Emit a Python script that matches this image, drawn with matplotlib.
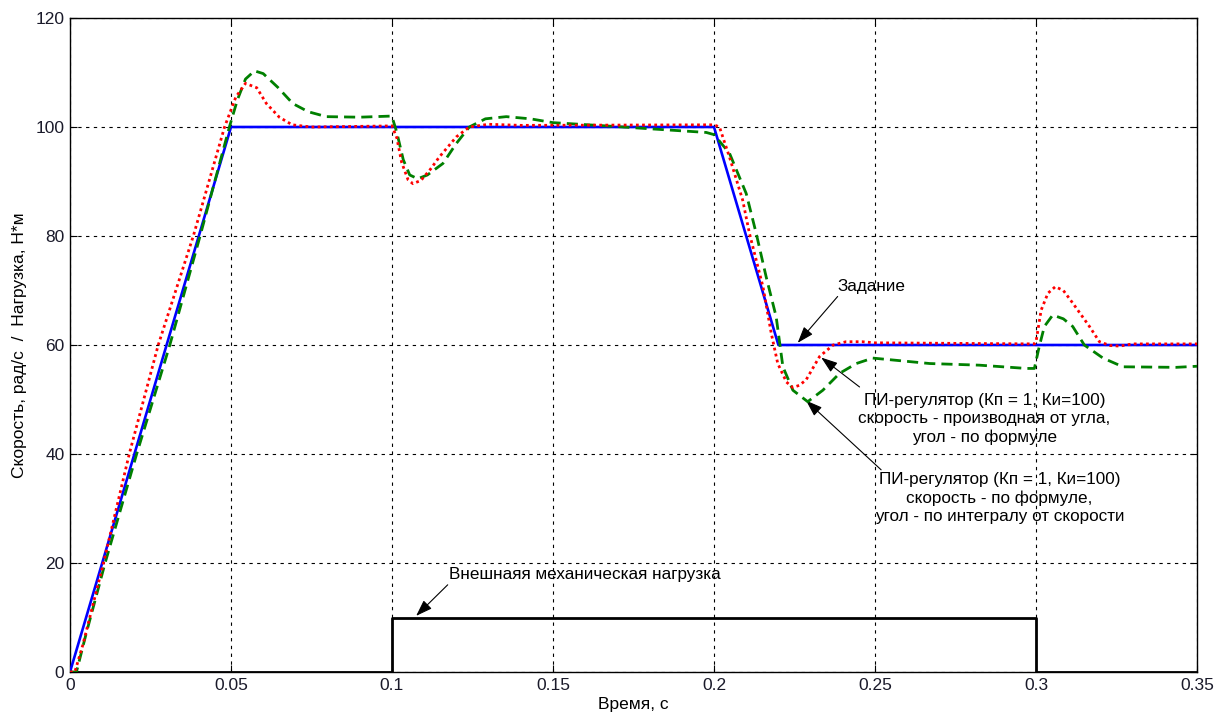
import matplotlib
matplotlib.use("Agg")
import matplotlib.pyplot as plt

plt.rcParams['font.family'] = ['Liberation Sans', 'DejaVu Sans']

# Reference (задание)
t_ref = [0, 0.05, 0.2, 0.22, 0.35]
v_ref = [0, 100, 100, 60, 60]

# PI, speed = derivative of angle (red dotted)
t_red = [0, 0.0015, 0.004, 0.0104, 0.0184, 0.0274, 0.0383, 0.048, 0.0515, 0.0545, 0.058,
         0.061, 0.065, 0.069, 0.075, 0.1, 0.1015, 0.103, 0.105, 0.1065, 0.109, 0.112,
         0.1147, 0.12, 0.124, 0.13, 0.14, 0.2, 0.2017, 0.2048, 0.2089, 0.211, 0.2152,
         0.2178, 0.2198, 0.2225, 0.2245, 0.2265, 0.2286, 0.2328, 0.237, 0.241, 0.246,
         0.25, 0.2995, 0.3, 0.3016, 0.3037, 0.306, 0.3085, 0.3114, 0.3166, 0.3197,
         0.323, 0.326, 0.33, 0.35]
v_red = [0, 0, 5, 20, 40, 60, 80, 100, 105.5, 108.0, 107.2,
         104.3, 101.8, 100.4, 100.0, 100.2, 98.0, 93.5, 90.3, 89.6, 90.2, 92.3,
         94.5, 98.2, 100.0, 100.5, 100.3, 100.4, 100.0, 94.5, 86.6, 80.5, 70.7,
         62.1, 56.6, 53.2, 52.2, 52.6, 53.6, 57.9, 60.0, 60.6, 60.6,
         60.4, 60.2, 60.6, 66.4, 69.5, 70.7, 70.0, 67.7, 63.4, 60.6,
         59.9, 59.8, 60.2, 60.2]

# PI, speed by formula (green dashed)
t_grn = [0, 0.002, 0.005, 0.0109, 0.0207, 0.031, 0.0404, 0.0495, 0.052, 0.0545, 0.0573,
         0.06, 0.0645, 0.0692, 0.074, 0.0796, 0.09, 0.0995, 0.1, 0.1015, 0.1035, 0.1055,
         0.108, 0.111, 0.1158, 0.12, 0.124, 0.129, 0.1355, 0.143, 0.15, 0.1665, 0.182,
         0.1976, 0.2, 0.2048, 0.21, 0.2131, 0.2162, 0.2193, 0.2214, 0.2245, 0.2291,
         0.2338, 0.239, 0.2442, 0.2493, 0.267, 0.2824, 0.297, 0.2995, 0.301, 0.3026,
         0.3052, 0.3085, 0.3114, 0.315, 0.3208, 0.327, 0.3435, 0.35]
v_grn = [0, 0, 7, 20, 40, 60, 80, 100, 105, 108.8, 110.3,
         109.8, 107.3, 104.3, 102.8, 101.9, 101.8, 102.0, 101.9, 99.0, 94.0, 91.2,
         90.5, 91.2, 93.3, 97.0, 100.0, 101.5, 101.9, 101.5, 100.8, 100.2, 99.6,
         99.0, 98.6, 95.2, 87.8, 80.5, 72.5, 65.2, 56.0, 51.7, 49.6,
         51.7, 54.8, 56.6, 57.6, 56.6, 56.3, 55.7, 55.7, 59.7, 63.4,
         65.5, 64.8, 63.4, 60.0, 57.6, 56.0, 55.9, 56.1]

# External mechanical load
t_load = [0, 0.1, 0.1, 0.3, 0.3, 0.35]
v_load = [0, 0, 10, 10, 0, 0]

xticks = [0, 0.05, 0.1, 0.15, 0.2, 0.25, 0.3, 0.35]
xticklabels = ['0', '0.05', '0.1', '0.15', '0.2', '0.25', '0.3', '0.35']
yticks = [0, 20, 40, 60, 80, 100, 120]

fig = plt.figure(figsize=(12.23, 7.18), dpi=100)
ax = fig.add_axes([70 / 1223, 46 / 718, 1127 / 1223, 654 / 718])

ax.plot(t_load, v_load, color='black', lw=2.0, zorder=3)
ax.plot(t_ref, v_ref, color='#0000ff', lw=1.9, zorder=4)
ax.plot(t_grn, v_grn, color='#008000', lw=2.0, ls=(0, (4, 2.2)), zorder=5)
ax.plot(t_red, v_red, color='#ff0000', lw=2.0, ls=(0, (1, 1.2)), zorder=6)

ax.set_xlim(0, 0.35)
ax.set_ylim(0, 120)
ax.set_xticks(xticks)
ax.set_xticklabels(xticklabels)
ax.set_yticks(yticks)
ax.grid(True, color='black', ls=(0, (3, 4)), lw=0.8)
ax.tick_params(direction='in', length=5, top=True, right=True, labelsize=12.5,
               labelcolor='#1a1a2a', pad=4)
for s in ax.spines.values():
    s.set_linewidth(1.0)

ax.set_xlabel('Время, с', fontsize=12.5, labelpad=3)
ax.set_ylabel('Скорость, рад/с  /  Нагрузка, Н*м', fontsize=12.5, labelpad=6)

arrow = dict(arrowstyle='-|>,head_length=1.0,head_width=0.35', color='black',
             lw=0.8, shrinkA=0, shrinkB=0)
fs = 12.3

ax.text(0.2488, 70.7, 'Задание', fontsize=fs, ha='center', va='center')
ax.annotate('', xy=(0.226, 60.4), xytext=(0.2384, 68.9), arrowprops=arrow)

ax.text(0.284, 46.4, 'ПИ-регулятор (Кп = 1, Ки=100)\nскорость - производная от угла,\nугол - по формуле',
        fontsize=fs, ha='center', va='center', linespacing=1.25)
ax.annotate('', xy=(0.2333, 57.7), xytext=(0.2452, 52.3), arrowprops=arrow)

ax.text(0.2886, 31.9, 'ПИ-регулятор (Кп = 1, Ки=100)\nскорость - по формуле,\nугол - по интегралу от скорости',
        fontsize=fs, ha='center', va='center', linespacing=1.25)
ax.annotate('', xy=(0.2286, 49.8), xytext=(0.2519, 37.1), arrowprops=arrow)

ax.text(0.1598, 17.8, 'Внешнаяя механическая нагрузка', fontsize=fs, ha='center', va='center')
ax.annotate('', xy=(0.1075, 10.3), xytext=(0.1173, 16.0), arrowprops=arrow)

fig.savefig('out.png', dpi=100)
